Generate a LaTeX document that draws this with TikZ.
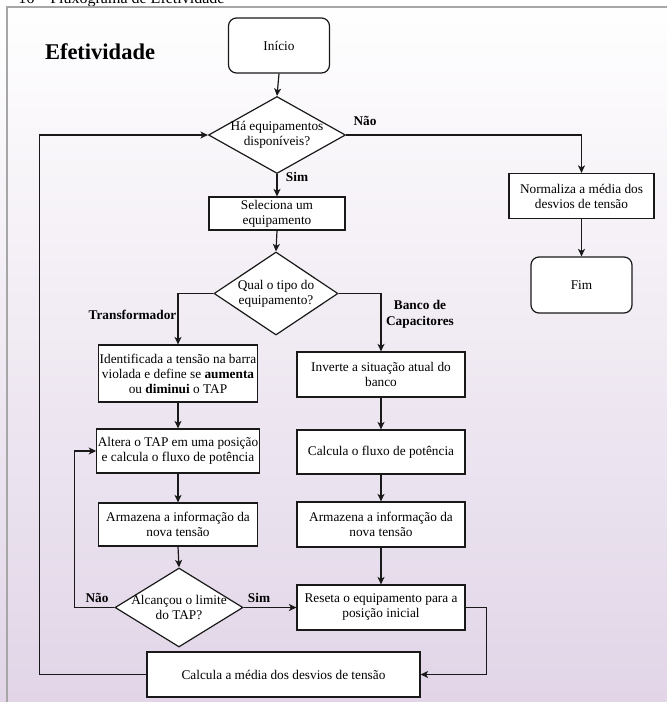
\documentclass[tikz,border=0pt]{standalone}
\usepackage{fontspec}
\setmainfont{Liberation Serif}
\usetikzlibrary{shapes.geometric,arrows.meta,calc}
\definecolor{bgpurple}{RGB}{225,213,231}
\definecolor{linec}{RGB}{25,25,25}
\begin{document}
\begin{tikzpicture}[x=1pt,y=-1pt,
  every node/.style={font=\fontsize{13.3}{15}\selectfont},
  box/.style={draw=linec, fill=white, line width=1.2pt, align=center, inner sep=1pt},
  rbox/.style={box, rounded corners=8pt},
  dia/.style={draw=linec, fill=white, line width=1.2pt, diamond, inner sep=0pt},
  lbl/.style={font=\fontsize{13.3}{15.5}\selectfont\bfseries, align=center},
  conn/.style={draw=linec, line width=1.2pt, -{Stealth[length=7.5pt,width=7pt,inset=2pt]}}
]
\useasboundingbox (0,0) rectangle (667,702);
\shade[top color=white, bottom color=bgpurple] (0,0) rectangle (667,702);
\node[anchor=base east, font=\fontsize{16}{18}\selectfont] (cap) at (228,3) {16 -- Fluxograma de Efetividade};
\draw[gray!70, line width=1.3pt] (7,702) -- (7,7) -- (667,7);

\node[font=\fontsize{22.5}{26}\selectfont\bfseries] (title) at (100,52) {Efetividade};

\node[rbox, minimum width=101pt, minimum height=55pt] (start) at (279,45.5) {Início};
\node[dia, minimum width=137pt, minimum height=77pt,
  label={[align=center, font=\fontsize{13.3}{15}\selectfont]center:Há equipamentos\\disponíveis?}] (d1) at (277,135) {};
\node[box, minimum width=145pt, minimum height=45pt] (norm) at (581.5,196) {Normaliza a média dos\\desvios de tensão};
\node[rbox, minimum width=101pt, minimum height=56pt] (fim) at (581.5,285) {Fim};
\node[box, minimum width=136pt, minimum height=33pt] (sel) at (277,213.5) {Seleciona um\\equipamento};
\node[dia, minimum width=124pt, minimum height=83pt,
  label={[align=center, font=\fontsize{13.3}{15}\selectfont]center:Qual o tipo do\\equipamento?}] (d2) at (276,293.5) {};

\node[box, minimum width=159pt, minimum height=57pt] (ident) at (178,373.5) {Identificada a tensão na barra\\violada e define se \textbf{aumenta}\\ou \textbf{diminui} o TAP};
\node[box, minimum width=159pt, minimum height=44pt] (alt) at (178,451) {Altera o TAP em uma posição\\e calcula o fluxo de potência};
\node[box, minimum width=159pt, minimum height=43pt] (arm1) at (178,524.5) {Armazena a informação da\\nova tensão};
\node[dia, minimum width=128pt, minimum height=79pt,
  label={[align=center, font=\fontsize{13.3}{15}\selectfont]center:Alcançou o limite\\do TAP?}] (d3) at (179,607.5) {};

\node[box, minimum width=168pt, minimum height=45pt] (inv) at (381,374.5) {Inverte a situação atual do\\banco};
\node[box, minimum width=168pt, minimum height=44pt] (calc) at (381,452) {Calcula o fluxo de potência};
\node[box, minimum width=168pt, minimum height=45pt] (arm2) at (381,524.5) {Armazena a informação da\\nova tensão};
\node[box, minimum width=168pt, minimum height=45pt] (res) at (381,607.5) {Reseta o equipamento para a\\posição inicial};
\node[box, minimum width=273pt, minimum height=45pt] (media) at (283.5,674.5) {Calcula a média dos desvios de tensão};

% connectors
\draw[conn] (start.south) -- (d1.north);
\draw[conn] (d1.east) -| (norm.north);
\draw[conn] (norm.south) -- (fim.north);
\draw[conn] (d1.south) -- (sel.north);
\draw[conn] (sel.south) -- (d2.north);
\draw[conn] (d2.west) -| (ident.north);
\draw[conn] (d2.east) -| (inv.north);
\draw[conn] (ident.south) -- (alt.north);
\draw[conn] (alt.south) -- (arm1.north);
\draw[conn] (arm1.south) -- (d3.north);
\draw[conn] (d3.west) -- ++(-40,0) |- (alt.west);
\draw[conn] (d3.east) -- (res.west);
\draw[conn] (inv.south) -- (calc.north);
\draw[conn] (calc.south) -- (arm2.north);
\draw[conn] (arm2.south) -- (res.north);
\draw[conn] (res.east) -- ++(21,0) |- (media.east);
\draw[conn] (media.west) -- ++(-107,0) |- (d1.west);

% labels
\node[lbl] (lnao1) at (365,121) {Não};
\node[lbl] (lsim1) at (297,177) {Sim};
\node[lbl] (ltrans) at (132.5,315) {Transformador};
\node[lbl] (lbanco) at (420,314.5) {Banco de\\Capacitores};
\node[lbl] (lnao2) at (97,598) {Não};
\node[lbl] (lsim2) at (259,598) {Sim};
\end{tikzpicture}
\end{document}
